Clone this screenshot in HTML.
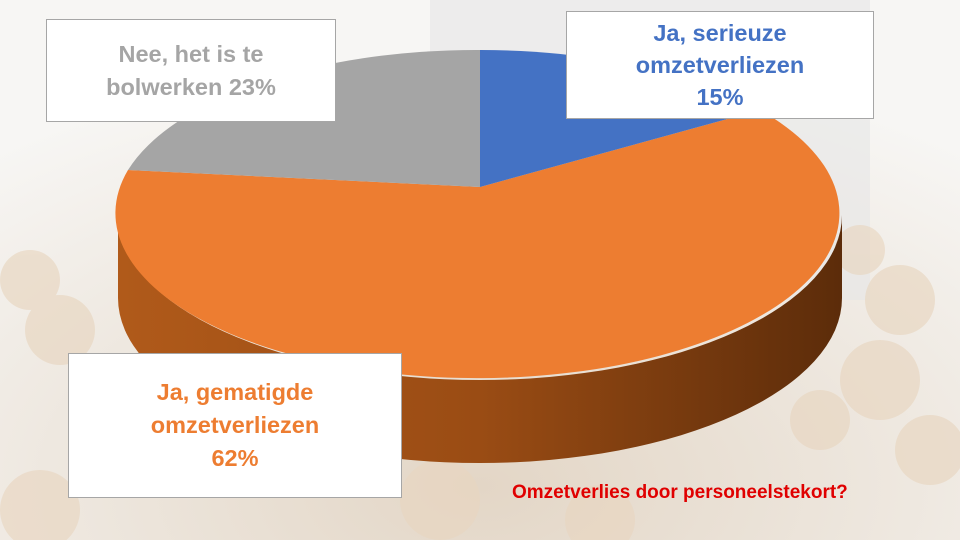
<!DOCTYPE html>
<html><head><meta charset="utf-8"><style>
body{margin:0;width:960px;height:540px;overflow:hidden;background:#f3f1ee;font-family:"Liberation Sans",sans-serif;position:relative}
.box{position:absolute;background:#fff;border:1px solid #a6a6a6;box-sizing:border-box;display:flex;align-items:center;justify-content:center;text-align:center;font-weight:bold;font-size:23.5px;line-height:33px}
</style></head><body>
<svg width="960" height="540" style="position:absolute;left:0;top:0">
<defs>
<linearGradient id="side" x1="0" x2="1" y1="0" y2="0">
<stop offset="0" stop-color="#b05a1a"/><stop offset="0.5" stop-color="#9a4c14"/><stop offset="1" stop-color="#5c2c0a"/>
</linearGradient>
<radialGradient id="bg" cx="0.5" cy="0.9" r="0.8"><stop offset="0" stop-color="#e3d6c6"/><stop offset="1" stop-color="#f7f6f4"/></radialGradient>
</defs>
<rect width="960" height="540" fill="url(#bg)"/>
<rect x="430" y="0" width="440" height="300" fill="#e6e6e6" opacity="0.6"/>
<g fill="#e8d6c0" opacity="0.65">
<circle cx="30" cy="280" r="30"/><circle cx="60" cy="330" r="35"/><circle cx="900" cy="300" r="35"/><circle cx="880" cy="380" r="40"/><circle cx="930" cy="450" r="35"/><circle cx="820" cy="420" r="30"/><circle cx="440" cy="500" r="40"/><circle cx="40" cy="510" r="40"/><circle cx="600" cy="520" r="35"/><circle cx="860" cy="250" r="25"/>
</g>
<path d="M118 215 L118 298 A362 165 0 0 0 842 298 L842 215 A362 165 0 0 1 118 215 Z" fill="url(#side)"/>
<path d="M480 187 L128 170 A362 165 0 1 0 760 110 Z" fill="#ed7d31"/>
<path d="M480 187 L480 50 A362 165 0 0 0 128 170 Z" fill="#a5a5a5"/>
<path d="M480 187 L480 50 A362 165 0 0 1 760 110 Z" fill="#4472c4"/>
<text x="512" y="498" font-size="19" font-weight="bold" fill="#e00000" font-family="Liberation Sans,sans-serif">Omzetverlies door personeelstekort?</text>
</svg>
<div class="box" style="left:46px;top:19px;width:290px;height:103px;color:#a5a5a5">Nee, het is te<br>bolwerken 23%</div>
<div class="box" style="left:566px;top:11px;width:308px;height:108px;color:#4472c4;line-height:32px">Ja, serieuze<br>omzetverliezen<br>15%</div>
<div class="box" style="left:68px;top:353px;width:334px;height:145px;color:#ed7d31">Ja, gematigde<br>omzetverliezen<br>62%</div>
</body></html>
